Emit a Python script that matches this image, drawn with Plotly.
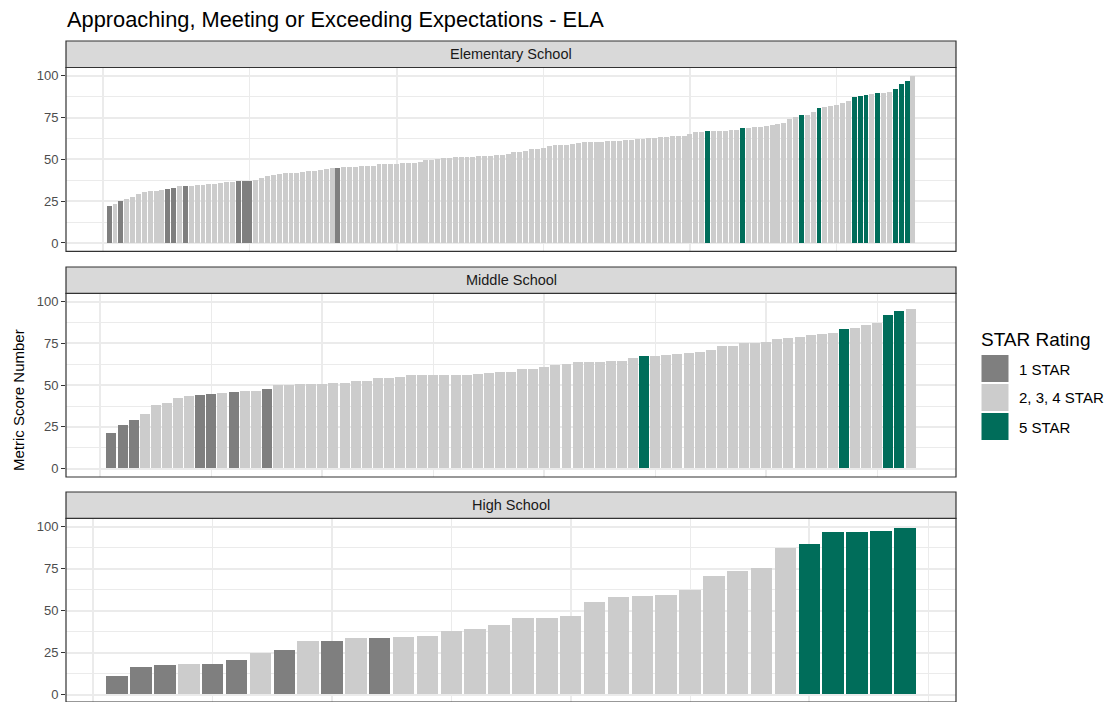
import plotly.graph_objects as go

# scores per school level, already in ascending order (rank 1 = lowest)
elem_scores = [
    22.6, 23.8, 25.7, 26.9, 27.7, 29.7, 30.5, 31.3, 31.5, 31.7,
    32.3, 33.3, 34.1, 34.3, 34.3, 34.7, 35.1, 35.3, 35.7, 36.1,
    36.5, 36.7, 37.1, 37.5, 37.5, 38.1, 38.9, 40.5, 41.1, 41.3,
    42.1, 42.1, 42.3, 42.9, 43.3, 43.3, 44.1, 44.5, 45.1, 45.3,
    45.5, 45.7, 45.9, 46.1, 46.3, 46.3, 47.3, 47.5, 47.5, 47.7,
    48.1, 48.3, 48.3, 48.5, 49.7, 49.9, 50.7, 50.9, 51.3, 51.5,
    51.5, 51.9, 51.9, 52.1, 52.3, 52.5, 53.1, 53.1, 53.3, 54.5,
    54.7, 55.3, 56.5, 56.7, 57.3, 58.1, 58.7, 58.9, 59.1, 59.3,
    60.1, 60.5, 60.5, 60.7, 60.9, 61.1, 61.3, 61.5, 61.7, 61.9,
    62.5, 62.7, 62.9, 62.9, 63.9, 63.9, 64.1, 64.1, 64.3, 65.5,
    66.5, 66.9, 67.1, 67.1, 67.3, 67.5, 67.7, 67.9, 69.1, 69.1,
    69.5, 69.9, 70.3, 70.7, 71.3, 72.3, 74.5, 75.9, 77.1, 77.1,
    78.6, 81.2, 81.8, 82.4, 82.6, 84.0, 85.2, 87.6, 88.4, 88.6,
    89.2, 90.0, 90.2, 90.8, 92.2, 95.4, 97.4, 100.0,
]
elem_one_star = [1, 3, 11, 12, 14, 23, 24, 25, 40]
elem_five_star = [103, 109, 119, 122, 128, 129, 130, 132, 135, 136, 137]

middle_scores = [
    20.9, 26.1, 29.2, 32.4, 37.8, 39.0, 42.0, 43.4, 43.8, 44.5,
    45.0, 45.7, 46.1, 46.5, 47.5, 49.7, 50.0, 50.3, 50.3, 50.3,
    50.9, 50.9, 52.3, 52.5, 53.9, 54.2, 54.5, 55.7, 55.7, 55.7,
    55.9, 55.9, 56.1, 56.5, 57.1, 57.5, 57.9, 59.3, 59.5, 60.6,
    62.0, 62.2, 63.4, 63.4, 63.6, 64.4, 64.4, 66.0, 67.0, 67.0,
    67.6, 68.4, 68.8, 69.4, 70.8, 73.2, 73.2, 75.0, 75.2, 75.6,
    77.2, 77.8, 78.4, 79.7, 80.3, 81.1, 83.3, 83.9, 85.7, 87.1,
    91.8, 94.2, 95.6,
]
middle_one_star = [1, 2, 3, 9, 10, 12, 15]
middle_five_star = [49, 67, 71, 72]

high_scores = [
    11.1, 16.5, 17.3, 17.9, 18.3, 20.7, 24.4, 26.2, 31.5, 32.0,
    33.3, 33.8, 34.3, 34.8, 37.5, 39.1, 41.5, 45.2, 45.4, 46.4,
    55.2, 58.2, 58.4, 59.3, 62.3, 70.5, 73.2, 75.0, 87.3, 89.3,
    96.8, 96.9, 97.4, 98.8,
]
high_one_star = [1, 2, 3, 5, 6, 8, 10, 12]
high_five_star = [30, 31, 32, 33, 34]

levels = ["Elementary School", "Middle School", "High School"]
ratings = ["1 STAR", "2, 3, 4 STAR", "5 STAR"]
colors = {"1 STAR": "#7F7F7F", "2, 3, 4 STAR": "#CCCCCC", "5 STAR": "#006D5A"}
x_minor = [[25, 75, 125], [10, 30, 50, 70], [5, 15, 25, 35]]
x_major = [[0, 50, 100], [0, 20, 40, 60], [0, 10, 20, 30]]
bar_width = [0.84, 0.9, 0.9]  # narrower on the crowded panel so the 1px gaps survive pixel snapping

W, H = 1112, 702
L, R = 66, 156
FONT = "Liberation Sans, Arial, sans-serif"


def px2x(px):
    return (px - L) / (W - L - R)


def px2y(py):
    return 1 - py / H


panels = [(67.5, 251.3), (293.3, 477.0), (518.3, 702.0)]
strips = [(41.0, 67.5), (267.0, 293.3), (492.0, 518.3)]

data = [
    (elem_scores, elem_one_star, elem_five_star),
    (middle_scores, middle_one_star, middle_five_star),
    (high_scores, high_one_star, high_five_star),
]

fig = go.Figure()
layout = {}
shapes = []
annotations = []

for i, (scores, one, five) in enumerate(data):
    sfx = "" if i == 0 else str(i + 1)
    n = len(scores)
    ranks = list(range(1, n + 1))
    rating = ["1 STAR" if r in one else "5 STAR" if r in five else "2, 3, 4 STAR" for r in ranks]
    for lab in ratings:
        xs = [r for r, g in zip(ranks, rating) if g == lab]
        ys = [s for s, g in zip(scores, rating) if g == lab]
        fig.add_trace(go.Bar(
            x=xs, y=ys, width=bar_width[i], name=lab,
            marker=dict(color=colors[lab], line=dict(width=0)),
            xaxis="x" + sfx, yaxis="y" + sfx, showlegend=False,
        ))

    span = n - 0.1
    top, bot = panels[i]
    layout["xaxis" + sfx] = dict(
        domain=[0, 1], anchor="y" + sfx, automargin=False,
        range=[0.55 - 0.05 * span, n + 0.45 + 0.05 * span],
        tickvals=x_major[i], showticklabels=False, ticks="",
        showgrid=True, gridcolor="#EBEBEB", gridwidth=1.8, zeroline=False,
        minor=dict(tickvals=x_minor[i], showgrid=True, gridcolor="#EBEBEB", gridwidth=0.9),
    )
    y_low = -5 if i < 2 else -5 + (703.1 - bot) * 110 / (bot - top + 1.1)
    layout["yaxis" + sfx] = dict(
        domain=[px2y(bot), px2y(top)], anchor="x" + sfx, automargin=False,
        range=[y_low, 105],
        tickvals=[0, 25, 50, 75, 100], ticks="outside", ticklen=4,
        tickcolor="#333333", tickwidth=1.1, ticklabeloverflow="allow",
        tickfont=dict(size=13, color="#4D4D4D", family=FONT),
        showgrid=True, gridcolor="#EBEBEB", gridwidth=1.8, zeroline=False,
        minor=dict(tickvals=[12.5, 37.5, 62.5, 87.5], showgrid=True,
                   gridcolor="#EBEBEB", gridwidth=0.9),
    )
    # panel border
    shapes.append(dict(type="rect", xref="x" + sfx + " domain", yref="y" + sfx + " domain",
                       x0=0, x1=1, y0=0, y1=1, line=dict(color="#333333", width=1.2)))
    # strip
    s0, s1 = strips[i]
    shapes.append(dict(type="rect", xref="paper", yref="paper", x0=0, x1=1,
                       y0=px2y(s1), y1=px2y(s0), fillcolor="#D9D9D9",
                       line=dict(color="#333333", width=1.2), layer="above"))
    annotations.append(dict(text=levels[i], xref="paper", yref="paper",
                            x=0.5, y=px2y((s0 + s1) / 2), xanchor="center", yanchor="middle",
                            showarrow=False, font=dict(size=14.5, color="#1A1A1A", family=FONT)))

# title and axis title
annotations.append(dict(text="Approaching, Meeting or Exceeding Expectations - ELA",
                        xref="paper", yref="paper", x=px2x(64.5), y=px2y(20),
                        xanchor="left", yanchor="middle", showarrow=False,
                        font=dict(size=21.8, color="black", family=FONT)))
annotations.append(dict(text="Metric Score Number", xref="paper", yref="paper",
                        x=px2x(18), y=px2y(400), xanchor="center", yanchor="middle",
                        textangle=-90, showarrow=False,
                        font=dict(size=15, color="black", family=FONT)))

# legend drawn by hand so the keys match the square ggplot keys
annotations.append(dict(text="STAR Rating", xref="paper", yref="paper",
                        x=px2x(978.5), y=px2y(339), xanchor="left", yanchor="middle",
                        showarrow=False, font=dict(size=19, color="black", family=FONT)))
for k, lab in enumerate(ratings):
    y0 = 355 + 29 * k
    shapes.append(dict(type="rect", xref="paper", yref="paper",
                       x0=px2x(981.5), x1=px2x(1008.5), y0=px2y(y0 + 27), y1=px2y(y0),
                       fillcolor=colors[lab], line=dict(width=0)))
    annotations.append(dict(text=lab, xref="paper", yref="paper",
                            x=px2x(1016.5), y=px2y(y0 + 14), xanchor="left", yanchor="middle",
                            showarrow=False, font=dict(size=15, color="black", family=FONT)))

fig.update_layout(
    **layout,
    width=W, height=H,
    margin=dict(l=L, r=R, t=0, b=0, autoexpand=False),
    plot_bgcolor="white", paper_bgcolor="white",
    bargap=0, barmode="overlay",
    shapes=shapes, annotations=annotations,
    font=dict(family=FONT),
)
# drop the browser's default 8px body margin so the figure sits at the window origin
fig.write_html("out.html", config={"displayModeBar": False},
               post_script="document.body.style.margin='0';")
